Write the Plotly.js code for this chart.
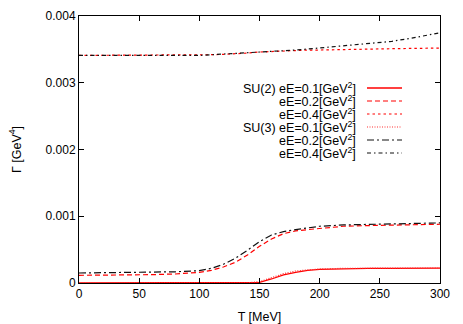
<!DOCTYPE html>
<html>
<head>
<meta charset="utf-8">
<script src="https://cdn.plot.ly/plotly-3.0.1.min.js"></script>
<style>
  html, body { margin: 0; padding: 0; background: #fff; }
  #plot-area { width: 463px; height: 324px; }
</style>
</head>
<body>
<div id="plot-area"></div>
<script>
// temperature grid [MeV]
const temps = [0, 20, 40, 60, 80, 100, 110, 120, 130, 140, 150, 160, 170, 180, 190, 200, 220, 240, 260, 280, 300];

// Γ [GeV^4]
const su2_01 = [0, 0, 0, 0, 0, 0, 0, 0, 0, 0.000002, 0.00001, 0.00006, 0.00012, 0.00016, 0.00019, 0.000205, 0.000215, 0.00022, 0.00022, 0.000221, 0.000222];
const su2_02 = [0.000115, 0.000117, 0.00012, 0.000125, 0.000135, 0.00016, 0.00019, 0.00024, 0.00031, 0.00042, 0.00055, 0.00066, 0.00074, 0.00078, 0.0008, 0.00082, 0.00085, 0.00086, 0.00087, 0.00087, 0.00088];
const su2_04 = [0.00341, 0.00341, 0.00341, 0.00341, 0.00341, 0.003415, 0.00342, 0.003425, 0.00343, 0.003445, 0.00346, 0.00347, 0.00348, 0.003485, 0.00349, 0.00349, 0.0035, 0.003505, 0.00351, 0.003515, 0.00352];
const su3_01 = [0, 0, 0, 0, 0, 0, 0, 0, 0, 0.000004, 0.00002, 0.00008, 0.00014, 0.00018, 0.0002, 0.00021, 0.00022, 0.000222, 0.000224, 0.000225, 0.000225];
const su3_02 = [0.00015, 0.000152, 0.000155, 0.00016, 0.000168, 0.000185, 0.00022, 0.00028, 0.00037, 0.00049, 0.00062, 0.00072, 0.00077, 0.0008, 0.00083, 0.00085, 0.00087, 0.00088, 0.00089, 0.00089, 0.0009];
const su3_04 = [0.00341, 0.00341, 0.0034, 0.0034, 0.0034, 0.00341, 0.00342, 0.00343, 0.00344, 0.003445, 0.00345, 0.00346, 0.003475, 0.00349, 0.003505, 0.00352, 0.00355, 0.00358, 0.00362, 0.00368, 0.00375];

const legendLabels = ['SU(2) eE=0.1[GeV<sup>2</sup>]', 'eE=0.2[GeV<sup>2</sup>]', 'eE=0.4[GeV<sup>2</sup>]',
                      'SU(3) eE=0.1[GeV<sup>2</sup>]', 'eE=0.2[GeV<sup>2</sup>]', 'eE=0.4[GeV<sup>2</sup>]'];
const xTicks = [0, 50, 100, 150, 200, 250, 300];
const yTicks = [0, 0.001, 0.002, 0.003, 0.004];
const yTickText = ['0', '0.001', '0.002', '0.003', '0.004'];

const series = [su2_01, su2_02, su2_04, su3_01, su3_02, su3_04];
const styles = [
    { color: '#ff0000', dash: 'solid', width: 1.3 },
    { color: '#ff0000', dash: '5px,3px', width: 1.2 },
    { color: '#ff0000', dash: '2.5px,3px', width: 1.2 },
    { color: '#ff3030', dash: '1px,1.5px', width: 1.2 },
    { color: '#111111', dash: '7px,3px,2px,3px', width: 1.2 },
    { color: '#111111', dash: '4px,3px,1.5px,3px', width: 1.2 }
];

const data = series.map((ys, i) => ({
    x: temps, y: ys, type: 'scatter', mode: 'lines',
    line: { color: styles[i].color, dash: styles[i].dash, width: styles[i].width },
    hoverinfo: 'none', showlegend: false
}));

// gnuplot-like key: text on the left, sample on the right
const annotations = [];
const shapes = [];
const plotL = 79, plotR = 440, plotT = 16, plotB = 283;
legendLabels.forEach((lab, i) => {
    const py = 88 + i * 13;
    const yp = (plotB - py) / (plotB - plotT);
    annotations.push({
        xref: 'paper', yref: 'paper',
        x: (358 - plotL) / (plotR - plotL), y: yp,
        xanchor: 'right', yanchor: 'middle',
        text: lab, showarrow: false,
        font: { size: 12.5, color: '#000' }
    });
    shapes.push({
        type: 'line', xref: 'paper', yref: 'paper',
        x0: (367 - plotL) / (plotR - plotL), x1: (402 - plotL) / (plotR - plotL),
        y0: yp, y1: yp,
        line: { color: styles[i].color, dash: styles[i].dash, width: styles[i].width }
    });
});

const axisCommon = {
    showgrid: false, zeroline: false,
    showline: true, linecolor: '#000', linewidth: 1, mirror: 'ticks',
    ticks: 'inside', ticklen: 5, tickcolor: '#000',
    tickfont: { size: 12, color: '#000' }
};

const layout = {
    width: 463, height: 324,
    margin: { l: plotL, r: 463 - plotR, t: plotT, b: 324 - plotB },
    font: { family: 'Liberation Sans, Arial, sans-serif', size: 12, color: '#000' },
    paper_bgcolor: 'white', plot_bgcolor: 'white',
    showlegend: false,
    xaxis: Object.assign({}, axisCommon, {
        range: [0, 300], tickvals: xTicks, automargin: false,
        title: { text: 'T [MeV]', font: { size: 12.5 }, standoff: 15 }
    }),
    yaxis: Object.assign({}, axisCommon, {
        range: [0, 0.004], tickvals: yTicks, ticktext: yTickText, automargin: false,
        title: { text: 'Γ [GeV<sup>4</sup>]', font: { size: 12.5 }, standoff: 21 }
    }),
    annotations: annotations,
    shapes: shapes
};

Plotly.newPlot('plot-area', data, layout, { displayModeBar: false, staticPlot: true });
</script>
</body>
</html>
